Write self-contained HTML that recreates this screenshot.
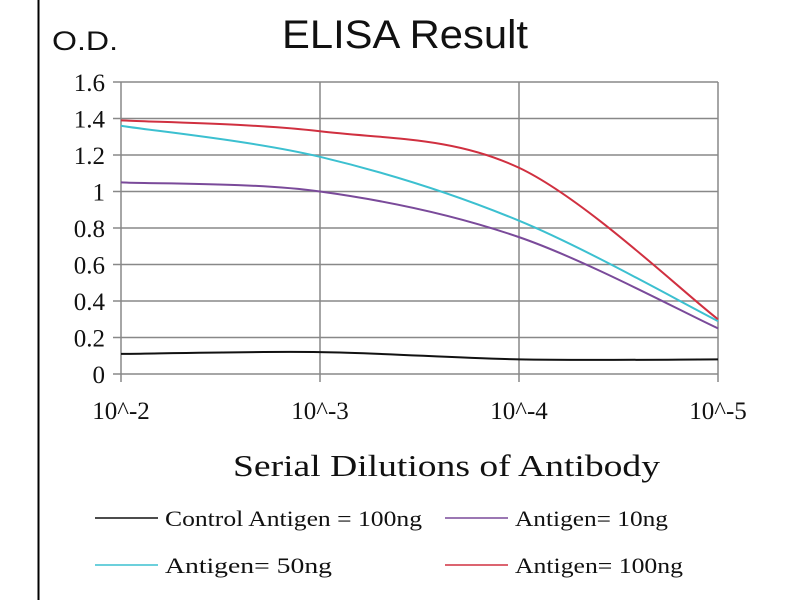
<!DOCTYPE html>
<html><head><meta charset="utf-8"><style>
body{margin:0;background:#fff;}
svg{display:block;font-family:"Liberation Serif",serif;}
</style></head><body>
<svg id="c" width="800" height="600">
<line x1="38.5" y1="0" x2="38.5" y2="600" stroke="#000" stroke-width="2"/>
<text x="52" y="50" font-family="Liberation Sans, sans-serif" font-size="27" fill="#111" textLength="66" lengthAdjust="spacingAndGlyphs">O.D.</text>
<text x="282" y="48" font-family="Liberation Sans, sans-serif" font-size="40" fill="#111" textLength="246" lengthAdjust="spacingAndGlyphs">ELISA Result</text>
<g id="grid"></g><g id="series"></g>
<text x="233" y="476" font-size="31" fill="#111" textLength="427" lengthAdjust="spacingAndGlyphs">Serial  Dilutions  of Antibody</text>
<g id="legend"></g>
</svg>
<script>
const categories=["10^-2","10^-3","10^-4","10^-5"];
const yTicks=[0,0.2,0.4,0.6,0.8,1,1.2,1.4,1.6];
const yTickLabels=["0","0.2","0.4","0.6","0.8","1","1.2","1.4","1.6"];
const seriesNames=["Control Antigen = 100ng","Antigen= 10ng","Antigen= 50ng","Antigen= 100ng"];
const controlValues=[0.11,0.12,0.08,0.08];
const ag10Values=[1.05,1.00,0.75,0.25];
const ag50Values=[1.36,1.19,0.84,0.29];
const ag100Values=[1.39,1.33,1.13,0.30];
const colors=["#111","#7a4a9a","#3cc0d0","#d03040"];
const legendLens=[257,153,167,168];
const NS="http://www.w3.org/2000/svg";
const x0=121,x1=718,y0=374,y1=82;
const xs=i=>x0+i*(x1-x0)/(categories.length-1);
const ys=v=>y0-v*(y0-y1)/1.6;
function mk(t,a,p){const e=document.createElementNS(NS,t);for(const k in a)e.setAttribute(k,a[k]);p.appendChild(e);return e;}
const g=document.getElementById('grid');
yTicks.forEach((v,i)=>{
 const l=mk('line',{x1:113,x2:x1,y1:ys(v),y2:ys(v),stroke:'#888','stroke-width':1.5},g);
 
 
 const t=mk('text',{x:105,y:ys(v)+9,'text-anchor':'end','font-size':25,fill:'#111'},g);
 t.textContent=yTickLabels[i];
 
 
});
categories.forEach((c,i)=>{
 const l=mk('line',{x1:xs(i),x2:xs(i),y1:y1,y2:382,stroke:'#888','stroke-width':1.5},g);
 
 
 const t=mk('text',{x:xs(i),y:419,'text-anchor':'middle','font-size':25,fill:'#111'},g);
 t.textContent=c;
 
 
});
function path(vals){
 const p=vals.map((v,i)=>[xs(i),ys(v)]);
 let d='M'+p[0][0]+','+p[0][1];
 for(let i=0;i<p.length-1;i++){
  const a=p[Math.max(0,i-1)],b=p[i],c=p[i+1],e=p[Math.min(p.length-1,i+2)];
  const c1=[b[0]+(c[0]-a[0])/6,b[1]+(c[1]-a[1])/6],c2=[c[0]-(e[0]-b[0])/6,c[1]-(e[1]-b[1])/6];
  d+=' C'+c1+' '+c2+' '+c;
 }
 return d;
}
const s=document.getElementById('series');
[controlValues,ag10Values,ag50Values,ag100Values].forEach((vals,i)=>{
 const e=mk('path',{d:path(vals),fill:'none',stroke:colors[i],'stroke-width':2},s);
 
 
});
const L=document.getElementById('legend');
const pos=[[95,518],[445,518],[95,565],[445,565]];
seriesNames.forEach((n,i)=>{
 const [x,y]=pos[i];
 const l=mk('line',{x1:x,x2:x+63,y1:y,y2:y,stroke:colors[i],'stroke-width':1.5},L);
 
 
 const t=mk('text',{x:x+70,y:y+8,'font-size':22,fill:'#111',textLength:legendLens[i],lengthAdjust:'spacingAndGlyphs'},L);
 t.textContent=n;
 
 
});
</script>
</body></html>
